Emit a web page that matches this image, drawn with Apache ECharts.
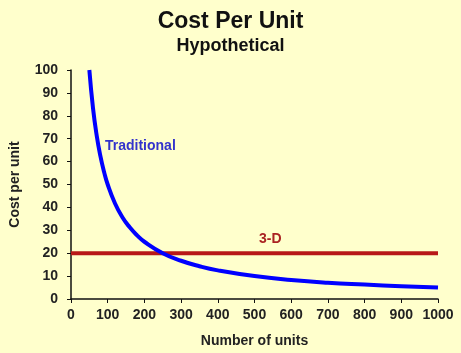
<!DOCTYPE html>
<html>
<head>
<meta charset="utf-8">
<script src="https://cdn.jsdelivr.net/npm/echarts@6/dist/echarts.min.js"></script>
<style>
  html, body { margin: 0; padding: 0; background: #FFFFCC; }
  #chart { width: 461px; height: 353px; }
</style>
</head>
<body>
<div id="chart"></div>
<script>
// values
var units = [50, 60, 70, 80, 90, 100, 120, 140, 160, 180, 200, 250, 300, 350, 400, 500, 600, 700, 800, 900, 1000]
var traditionalCost = [100, 83.3, 71.4, 62.5, 55.6, 50, 41.7, 35.7, 31.3, 27.8, 25, 20, 16.7, 14.3, 12.5, 10, 8.3, 7.1, 6.3, 5.6, 5]
var threeDUnits = [0, 1000]
var threeDCost = [20, 20]

var font = 'Liberation Sans, Arial, sans-serif'

var myChart = echarts.init(document.getElementById('chart'))

myChart.setOption({
  backgroundColor: '#FFFFCC',
  animation: false,
  title: {
    text: 'Cost Per Unit',
    subtext: 'Hypothetical',
    left: 'center',
    top: 5,
    itemGap: 4,
    textStyle: { fontFamily: font, fontSize: 23, fontWeight: 'bold', color: '#111' },
    subtextStyle: { fontFamily: font, fontSize: 18, fontWeight: 'bold', color: '#111' }
  },
  grid: { left: 69, right: 23, top: 70, bottom: 54 },
  xAxis: {
    type: 'value',
    min: 0,
    max: 1000,
    interval: 100,
    name: 'Number of units',
    nameLocation: 'middle',
    nameGap: 35,
    nameTextStyle: { fontFamily: font, fontSize: 14, fontWeight: 'bold', color: '#222' },
    axisLine: { lineStyle: { color: '#111', width: 1.5 } },
    axisTick: { show: true, length: 4, lineStyle: { color: '#111' } },
    axisLabel: {
      fontFamily: font, fontSize: 14, fontWeight: 'bold', color: '#222', margin: 9,
      formatter: function (v) { return String(v) }
    },
    splitLine: { show: false }
  },
  yAxis: {
    type: 'value',
    min: 0,
    max: 100,
    interval: 10,
    name: 'Cost per unit',
    nameLocation: 'middle',
    nameGap: 49,
    nameTextStyle: { fontFamily: font, fontSize: 14, fontWeight: 'bold', color: '#222' },
    axisLine: { show: true, lineStyle: { color: '#111', width: 1.5 } },
    axisTick: { show: true, length: 4, lineStyle: { color: '#111' } },
    axisLabel: { fontFamily: font, fontSize: 14, fontWeight: 'bold', color: '#222', margin: 13 },
    splitLine: { show: false }
  },
  series: [
    {
      name: '3-D',
      type: 'line',
      data: threeDUnits.map(function (u, i) { return [u, threeDCost[i]] }),
      symbol: 'none',
      lineStyle: { color: '#B81818', width: 4 },
      z: 2
    },
    {
      name: 'Traditional',
      type: 'line',
      smooth: true,
      data: units.map(function (u, i) { return [u, traditionalCost[i]] }),
      symbol: 'none',
      lineStyle: { color: '#0000FF', width: 4 },
      z: 3
    }
  ],
  graphic: [
    {
      type: 'text',
      left: 105,
      top: 139,
      style: { text: 'Traditional', fill: '#3333CC', font: 'bold 14px ' + font }
    },
    {
      type: 'text',
      left: 259,
      top: 232,
      style: { text: '3-D', fill: '#AA2222', font: 'bold 14px ' + font }
    }
  ]
})
</script>
</body>
</html>
